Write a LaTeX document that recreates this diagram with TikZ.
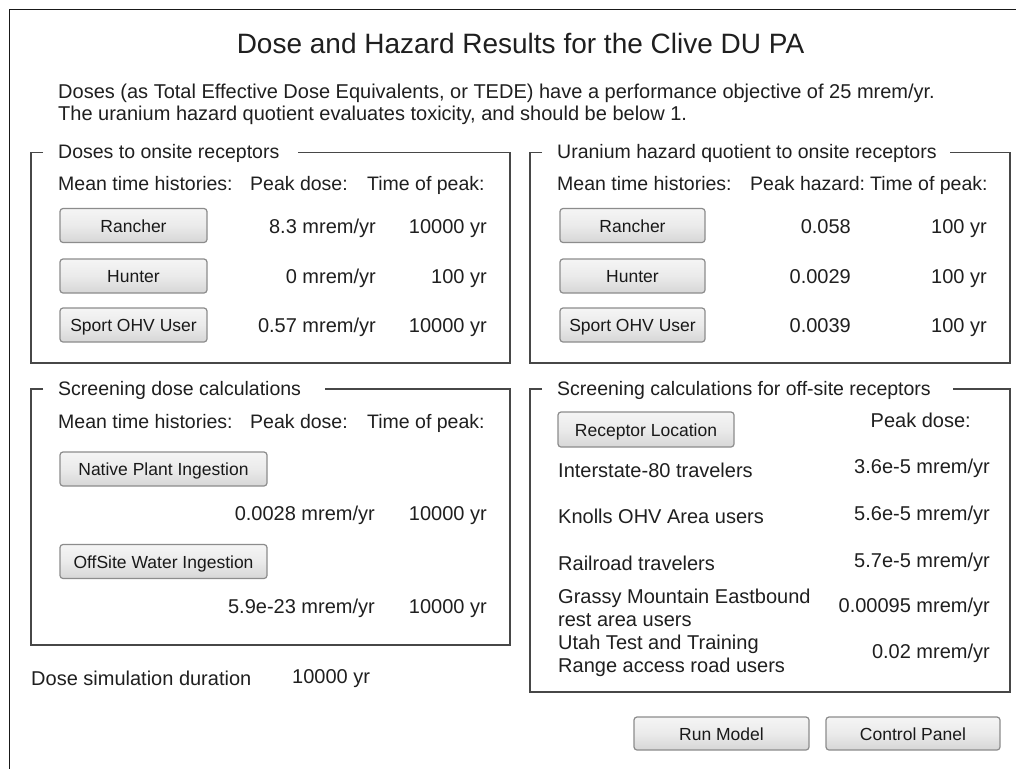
\documentclass[tikz,border=0pt]{standalone}
\usepackage{fontspec}
\setmainfont{Liberation Sans}
\begin{document}
\begin{tikzpicture}[x=1pt,y=-1pt,
  txt/.style={inner sep=0pt,text=black!88,font=\fontsize{20}{22}\selectfont},
  lft/.style={txt,anchor=base west},
  rgt/.style={txt,anchor=base east},
  hdr/.style={lft,font=\fontsize{19.5}{21}\selectfont},
  frame/.style={draw=black!72,line width=1.6pt},
  btn/.style={draw=black!45,line width=1.2pt,rounded corners=3pt,
    top color=black!4,bottom color=black!16,middle color=black!8},
  btntxt/.style={inner sep=0pt,text=black!90,font=\fontsize{17.5}{19}\selectfont,anchor=base}
]
\useasboundingbox (0,0) rectangle (1016,769);
\fill[white] (0,0) rectangle (1016,769);
% window border
\coordinate (wtr) at (1016,9.5);
\coordinate (wtl) at (9.5,9.5);
\coordinate (wbl) at (9.5,769);
\draw[black!90,line width=1.8pt] (wtr) -- (wtl) -- (wbl);

% title and intro
\node[txt,anchor=base,font=\fontsize{28}{30}\selectfont] (title) at (520.5,53) {Dose and Hazard Results for the Clive DU PA};
\node[lft] (intro1) at (58,98.5) {Doses (as Total Effective Dose Equivalents, or TEDE) have a performance objective of 25 mrem/yr.};
\node[lft] (intro2) at (58,120.5) {The uranium hazard quotient evaluates toxicity, and should be below 1.};

% ---------- Box 1 ----------
\node[hdr] (b1lab) at (58,158) {Doses to onsite receptors};
\coordinate (b1a) at (43,152.5);
\coordinate (b1b) at (31,152.5);
\coordinate (b1c) at (31,363);
\coordinate (b1d) at (510,363);
\coordinate (b1e) at (510,152.5);
\coordinate (b1f) at (298,152.5);
\draw[frame] (b1a) -- (b1b) -- (b1c) -- (b1d) -- (b1e) -- (b1f);
\node[hdr] (b1h1) at (58,190.5) {Mean time histories:};
\node[hdr] (b1h2) at (250,190.5) {Peak dose:};
\node[hdr] (b1h3) at (367,190.5) {Time of peak:};
\foreach \n/\lab/\v/\t/\y in {r/Rancher/8.3 mrem\slash yr/10000 yr/225.5,
                               h/Hunter/0 mrem\slash yr/100 yr/276,
                               s/Sport OHV User/0.57 mrem\slash yr/10000 yr/325}{
  \node[btn,minimum width=147pt,minimum height=34pt,inner sep=0pt] (b1\n) at (133.5,\y) {};
  \node[btntxt] (b1\n t) at ([yshift=-6.5pt]b1\n.center) {\lab};
  \node[rgt] (b1\n v) at (376,\y+7.5) {\v};
  \node[rgt] (b1\n p) at (487,\y+7.5) {\t};
}

% ---------- Box 2 ----------
\node[hdr] (b2lab) at (557,158) {Uranium hazard quotient to onsite receptors};
\coordinate (b2a) at (542,152.5);
\coordinate (b2b) at (530,152.5);
\coordinate (b2c) at (530,363);
\coordinate (b2d) at (1010,363);
\coordinate (b2e) at (1010,152.5);
\coordinate (b2f) at (950,152.5);
\draw[frame] (b2a) -- (b2b) -- (b2c) -- (b2d) -- (b2e) -- (b2f);
\node[hdr] (b2h1) at (557,190.5) {Mean time histories:};
\node[hdr] (b2h2) at (750,190.5) {Peak hazard:};
\node[hdr] (b2h3) at (870,190.5) {Time of peak:};
\foreach \n/\lab/\v/\t/\y in {r/Rancher/0.058/100 yr/225.5,
                               h/Hunter/0.0029/100 yr/276,
                               s/Sport OHV User/0.0039/100 yr/325}{
  \node[btn,minimum width=145pt,minimum height=34pt,inner sep=0pt] (b2\n) at (632.5,\y) {};
  \node[btntxt] (b2\n t) at ([yshift=-6.5pt]b2\n.center) {\lab};
  \node[rgt] (b2\n v) at (851,\y+7.5) {\v};
  \node[rgt] (b2\n p) at (987,\y+7.5) {\t};
}

% ---------- Box 3 ----------
\node[hdr] (b3lab) at (58,395) {Screening dose calculations};
\coordinate (b3a) at (43,389);
\coordinate (b3b) at (31,389);
\coordinate (b3c) at (31,645);
\coordinate (b3d) at (510,645);
\coordinate (b3e) at (510,389);
\coordinate (b3f) at (325,389);
\draw[frame] (b3a) -- (b3b) -- (b3c) -- (b3d) -- (b3e) -- (b3f);
\node[hdr] (b3h1) at (58,428) {Mean time histories:};
\node[hdr] (b3h2) at (250,428) {Peak dose:};
\node[hdr] (b3h3) at (367,428) {Time of peak:};
\node[btn,minimum width=207pt,minimum height=34pt,inner sep=0pt] (b3n) at (163.5,469) {};
\node[btntxt] (b3nt) at ([yshift=-6.5pt]b3n.center) {Native Plant Ingestion};
\node[rgt] (b3nv) at (375,520) {0.0028 mrem/yr};
\node[rgt] (b3np) at (487,520) {10000 yr};
\node[btn,minimum width=207pt,minimum height=34pt,inner sep=0pt] (b3o) at (163.5,561.5) {};
\node[btntxt] (b3ot) at ([yshift=-6.5pt]b3o.center) {OffSite Water Ingestion};
\node[rgt] (b3ov) at (375,613) {5.9e-23 mrem/yr};
\node[rgt] (b3op) at (487,613) {10000 yr};

\node[lft] (dsd) at (31,685) {Dose simulation duration};
\node[lft] (dsdv) at (292,683) {10000 yr};

% ---------- Box 4 ----------
\node[hdr] (b4lab) at (557,395) {Screening calculations for off-site receptors};
\coordinate (b4a) at (542,389);
\coordinate (b4b) at (530,389);
\coordinate (b4c) at (530,692);
\coordinate (b4d) at (1010,692);
\coordinate (b4e) at (1010,389);
\coordinate (b4f) at (953,389);
\draw[frame] (b4a) -- (b4b) -- (b4c) -- (b4d) -- (b4e) -- (b4f);
\node[btn,minimum width=176pt,minimum height=35pt,inner sep=0pt] (b4rl) at (646,429.5) {};
\node[btntxt] (b4rlt) at ([yshift=-6.5pt]b4rl.center) {Receptor Location};
\node[rgt] (b4pd) at (971,427) {Peak dose:};
\node[lft] (r1) at (558,477) {Interstate-80 travelers};
\node[rgt] (r1v) at (990,473) {3.6e-5 mrem/yr};
\node[lft] (r2) at (558,523) {Knolls OHV Area users};
\node[rgt] (r2v) at (990,520) {5.6e-5 mrem/yr};
\node[lft] (r3) at (558,570) {Railroad travelers};
\node[rgt] (r3v) at (990,567) {5.7e-5 mrem/yr};
\node[lft] (r4a) at (558,603) {Grassy Mountain Eastbound};
\node[lft] (r4b) at (558,626) {rest area users};
\node[rgt] (r4v) at (990,612) {0.00095 mrem/yr};
\node[lft] (r5a) at (558,649) {Utah Test and Training};
\node[lft] (r5b) at (558,672) {Range access road users};
\node[rgt] (r5v) at (990,658) {0.02 mrem/yr};

% bottom buttons
\node[btn,minimum width=175pt,minimum height=33pt,inner sep=0pt] (run) at (721.5,733.5) {};
\node[btntxt] (runt) at ([yshift=-6.5pt]run.center) {Run Model};
\node[btn,minimum width=174pt,minimum height=33pt,inner sep=0pt] (cp) at (913,733.5) {};
\node[btntxt] (cpt) at ([yshift=-6.5pt]cp.center) {Control Panel};
\end{tikzpicture}
\end{document}
